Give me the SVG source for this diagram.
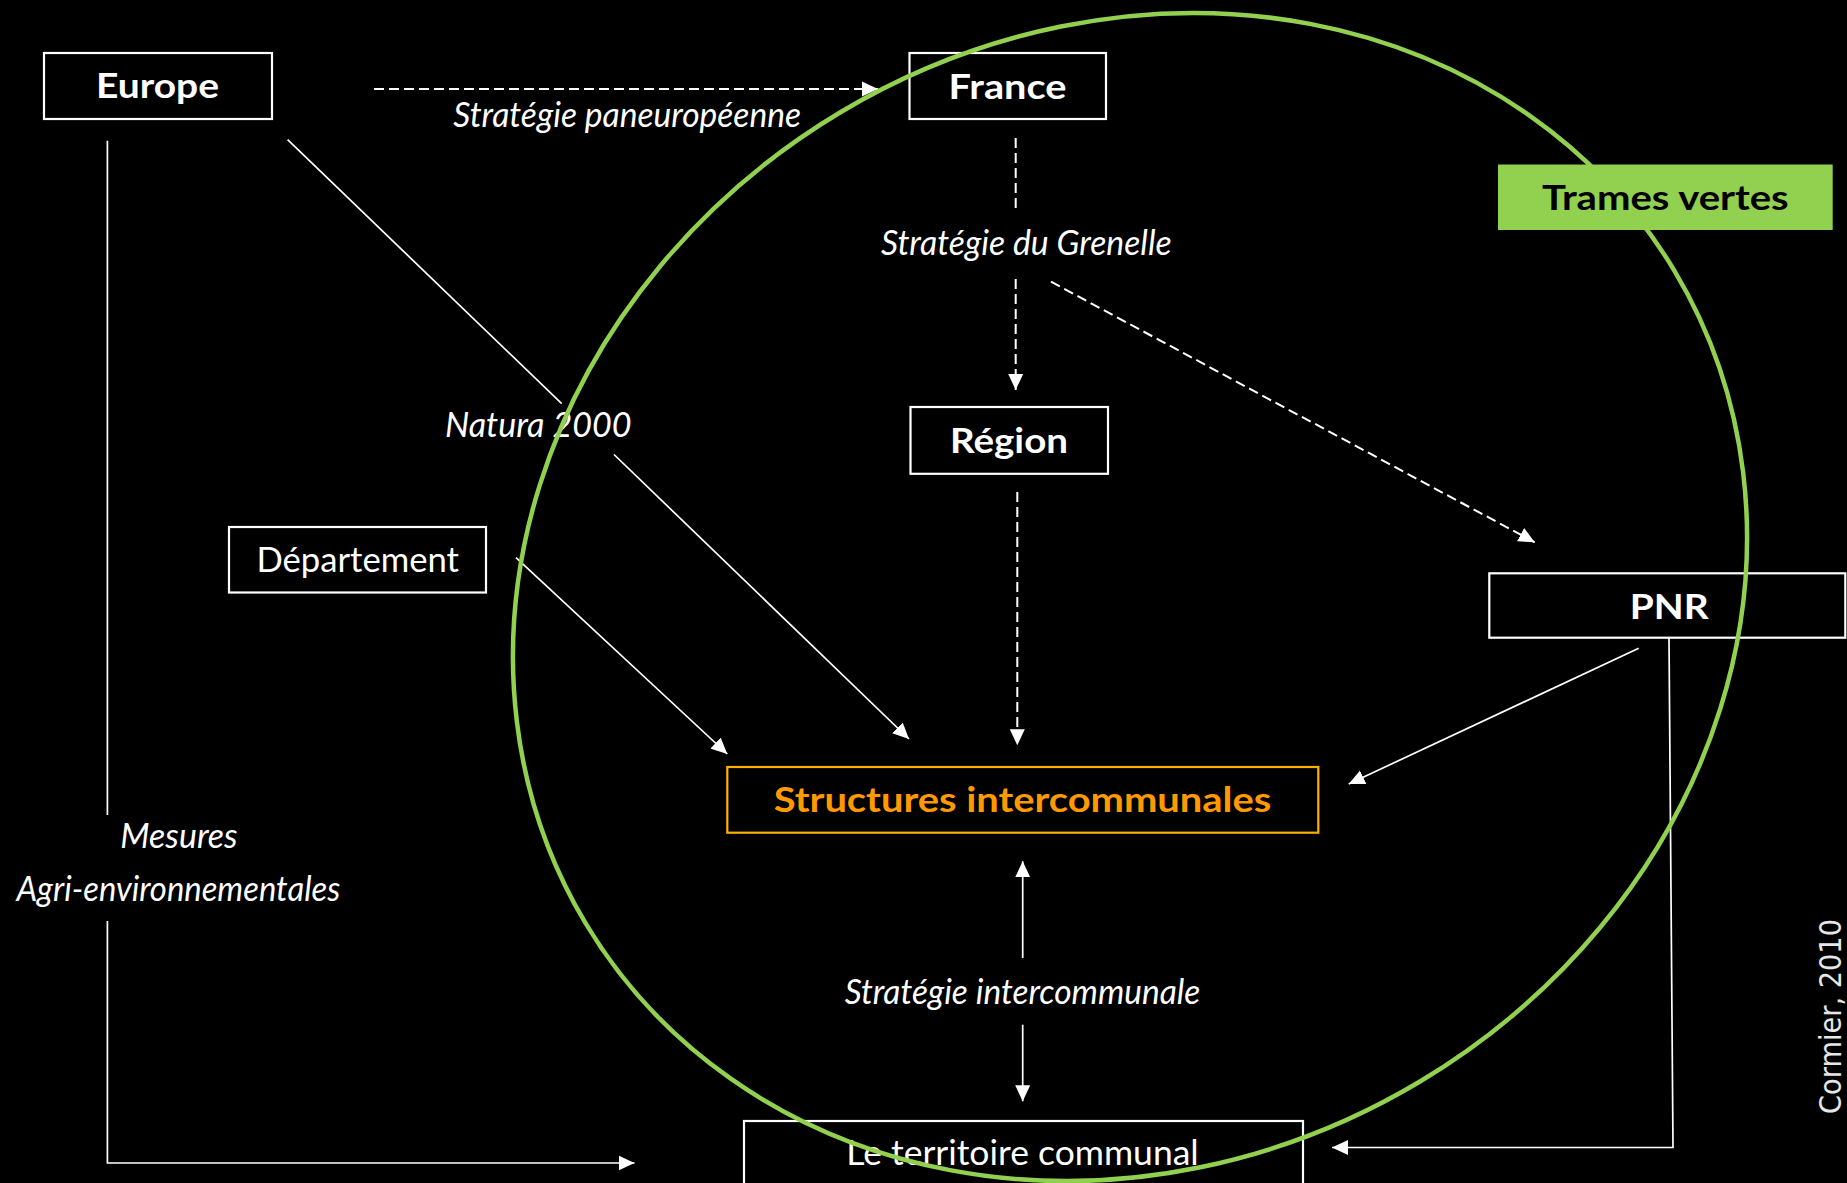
<svg xmlns="http://www.w3.org/2000/svg" width="1847" height="1183" viewBox="0 0 1847 1183">
  <defs>
    <marker id="arrow" markerUnits="userSpaceOnUse" markerWidth="16" markerHeight="16" refX="16" refY="8" orient="auto" viewBox="0 0 16 16">
      <path d="M0,0.5 L16,8 L0,15.5 z" fill="#ffffff"/>
    </marker>
  </defs>
  <style>
    .box { fill: #000000; stroke: #ffffff; stroke-width: 2.2; }
    .lbl { font-family: Lato, "Liberation Sans", "DejaVu Sans", sans-serif; font-size: 35px; fill: #ffffff; text-anchor: middle; }
    .b { font-weight: bold; }
    .it { font-style: italic; }
    .solid { fill: none; stroke: #ffffff; stroke-width: 1.7; }
    .dash { fill: none; stroke: #ffffff; stroke-width: 2; stroke-dasharray: 10 5; }
    .arr { marker-end: url(#arrow); }
  </style>
  <rect x="0" y="0" width="1847" height="1183" fill="#000000"/>

  <g id="connectors">
    <!-- Europe -> France (dashed) -->
    <line class="dash arr" x1="374" y1="89" x2="878" y2="89"/>
    <!-- France -> Region (dashed, broken by label) -->
    <line class="dash" x1="1015.7" y1="138" x2="1015.7" y2="210"/>
    <line class="dash arr" x1="1015.7" y1="279" x2="1015.7" y2="390"/>
    <!-- Grenelle -> PNR (dashed) -->
    <line class="dash arr" x1="1051" y1="281.7" x2="1534.7" y2="542.3"/>
    <!-- Region -> Structures (dashed) -->
    <line class="dash arr" x1="1017.3" y1="492" x2="1017.3" y2="745.3"/>
    <!-- Europe -> Structures (Natura 2000) -->
    <line class="solid" x1="287.6" y1="139.7" x2="561.7" y2="403.6"/>
    <line class="solid arr" x1="614" y1="454.5" x2="909" y2="739"/>
    <!-- Departement -> Structures -->
    <line class="solid arr" x1="516" y1="557.7" x2="727.3" y2="754"/>
    <!-- PNR -> Structures -->
    <line class="solid arr" x1="1638.7" y1="648.3" x2="1348.7" y2="784"/>
    <!-- PNR -> Le territoire communal -->
    <polyline class="solid arr" points="1669,638 1673,1147.5 1332,1147.5"/>
    <!-- Structures <-> Le territoire -->
    <line class="solid arr" x1="1022.7" y1="958" x2="1022.7" y2="861.3"/>
    <line class="solid arr" x1="1022.7" y1="1024.7" x2="1022.7" y2="1101.3"/>
    <!-- Europe -> Le territoire (Mesures agri-environnementales) -->
    <line class="solid" x1="107.4" y1="140.8" x2="107.4" y2="815"/>
    <polyline class="solid arr" points="107.4,921 107.4,1163 634.5,1163"/>
  </g>

  <g id="edge-labels">
    <text class="lbl it" x="627.2" y="127" textLength="347.7" lengthAdjust="spacingAndGlyphs">Stratégie paneuropéenne</text>
    <text class="lbl it" x="1026.3" y="255" textLength="290.7" lengthAdjust="spacingAndGlyphs">Stratégie du Grenelle</text>
    <text class="lbl it" x="538.3" y="436.7" textLength="186.7" lengthAdjust="spacingAndGlyphs">Natura 2000</text>
    <text class="lbl it" x="1022.5" y="1004" textLength="355.7" lengthAdjust="spacingAndGlyphs">Stratégie intercommunale</text>
    <text class="lbl it" x="179" y="848" textLength="117.4" lengthAdjust="spacingAndGlyphs">Mesures</text>
    <text class="lbl it" x="178.4" y="901" textLength="324" lengthAdjust="spacingAndGlyphs">Agri-environnementales</text>
  </g>

  <g id="node-europe">
    <rect class="box" x="44" y="53" width="228" height="66"/>
    <text class="lbl b" x="157.5" y="98" textLength="123" lengthAdjust="spacingAndGlyphs">Europe</text>
  </g>
  <g id="node-france">
    <rect class="box" x="909.5" y="53" width="196.5" height="66"/>
    <text class="lbl b" x="1007.5" y="98.5" textLength="118" lengthAdjust="spacingAndGlyphs">France</text>
  </g>
  <g id="node-region">
    <rect class="box" x="910.5" y="407" width="197.5" height="66.8"/>
    <text class="lbl b" x="1009" y="453.3" textLength="118" lengthAdjust="spacingAndGlyphs">Région</text>
  </g>
  <g id="node-departement">
    <rect class="box" x="229" y="527" width="257" height="65.5"/>
    <text class="lbl" x="357.7" y="572" textLength="202.4" lengthAdjust="spacingAndGlyphs">Département</text>
  </g>
  <g id="node-structures">
    <rect x="727.3" y="767" width="591" height="65.7" fill="#000000" stroke="#FFB000" stroke-width="2.2"/>
    <text class="lbl b" x="1022.5" y="812.3" textLength="497.6" lengthAdjust="spacingAndGlyphs" style="fill:#FF9900">Structures intercommunales</text>
  </g>
  <g id="node-pnr">
    <rect class="box" x="1489.3" y="573.3" width="356" height="64.4"/>
    <text class="lbl b" x="1669.2" y="619.3" textLength="79" lengthAdjust="spacingAndGlyphs">PNR</text>
  </g>
  <g id="node-territoire">
    <rect class="box" x="744" y="1121" width="559" height="90"/>
    <text class="lbl" x="1022.5" y="1164.7" textLength="352.4" lengthAdjust="spacingAndGlyphs">Le territoire communal</text>
  </g>

  <g id="trames-vertes-circle">
    <ellipse cx="1130" cy="597" rx="634.7" ry="564.7" transform="rotate(-30.9 1130 597)" fill="none" stroke="#92D050" stroke-width="4.5"/>
  </g>

  <g id="node-trames-vertes">
    <rect x="1498" y="164.5" width="334.7" height="65.5" fill="#92D050"/>
    <text class="lbl b" x="1665.3" y="210" textLength="246.7" lengthAdjust="spacingAndGlyphs" style="fill:#000000">Trames vertes</text>
  </g>

  <g id="credit">
    <text transform="translate(1841 1016.5) rotate(-90)" x="0" y="0" text-anchor="middle" font-family="'DejaVu Sans', 'Liberation Sans', sans-serif" font-size="30" fill="#e6e6e6" textLength="195" lengthAdjust="spacingAndGlyphs">Cormier, 2010</text>
  </g>
</svg>
